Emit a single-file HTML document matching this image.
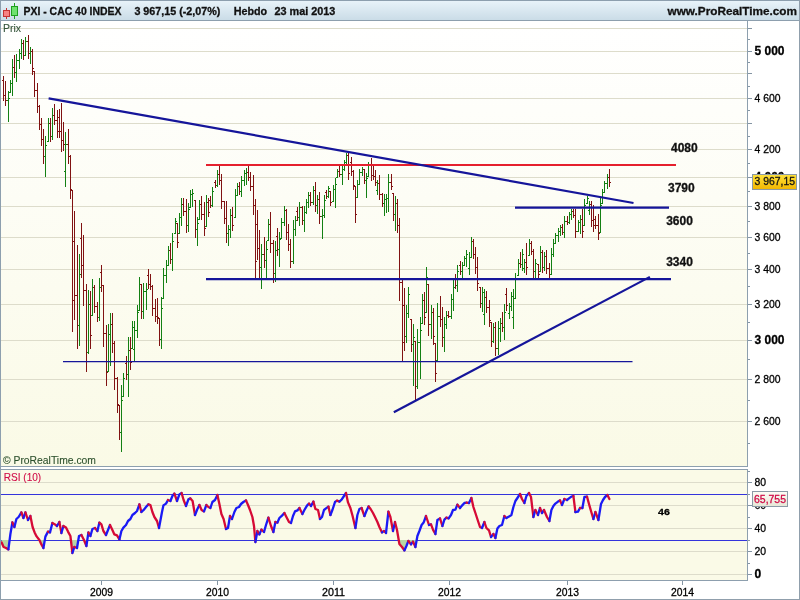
<!DOCTYPE html>
<html><head><meta charset="utf-8"><title>PXI - CAC 40 INDEX</title>
<style>
html,body{margin:0;padding:0;background:#fff;}
body{width:800px;height:600px;overflow:hidden;position:relative;font-family:"Liberation Sans",Arial,sans-serif;}
svg{position:absolute;left:0;top:0;}
text{font-family:"Liberation Sans",Arial,sans-serif;}
.b{font-weight:bold;}
</style></head><body>
<svg width="800" height="600" viewBox="0 0 800 600">
<defs>
<linearGradient id="hd" x1="0" y1="0" x2="0" y2="1"><stop offset="0" stop-color="#e9f4fa"/><stop offset="1" stop-color="#c9dbe6"/></linearGradient>
<linearGradient id="pg" x1="0" y1="0" x2="0" y2="1"><stop offset="0" stop-color="#ffffff"/><stop offset="1" stop-color="#fafae6"/></linearGradient>
<linearGradient id="yb" x1="0" y1="0" x2="0" y2="1"><stop offset="0" stop-color="#ffe23a"/><stop offset="1" stop-color="#f2b600"/></linearGradient>
<linearGradient id="wb" x1="0" y1="0" x2="0" y2="1"><stop offset="0" stop-color="#fdfdf6"/><stop offset="1" stop-color="#e6e6d6"/></linearGradient>
<clipPath id="cp"><rect x="2" y="21" width="745" height="445"/></clipPath>
<clipPath id="cr"><rect x="1" y="470" width="746" height="110"/></clipPath>
</defs>
<rect x="0" y="0" width="800" height="600" fill="#ffffff"/>

<rect x="0" y="0" width="800" height="21" fill="url(#hd)"/>
<rect x="0" y="0" width="800" height="1" fill="#8d9fae"/>
<rect x="0" y="20" width="800" height="1" fill="#8d9fae"/>
<rect x="1" y="21" width="746" height="445" fill="url(#pg)"/>
<rect x="1" y="469" width="746" height="111" fill="#fafae7"/>
<g shape-rendering="crispEdges">
<rect x="1" y="421" width="746" height="1" fill="#dddccb"/>
<rect x="1" y="379" width="746" height="1" fill="#dddccb"/>
<rect x="1" y="340" width="746" height="1" fill="#dddccb"/>
<rect x="1" y="304" width="746" height="1" fill="#dddccb"/>
<rect x="1" y="269" width="746" height="1" fill="#dddccb"/>
<rect x="1" y="237" width="746" height="1" fill="#dddccb"/>
<rect x="1" y="206" width="746" height="1" fill="#dddccb"/>
<rect x="1" y="177" width="746" height="1" fill="#dddccb"/>
<rect x="1" y="149" width="746" height="1" fill="#dddccb"/>
<rect x="1" y="123" width="746" height="1" fill="#dddccb"/>
<rect x="1" y="98" width="746" height="1" fill="#dddccb"/>
<rect x="1" y="73" width="746" height="1" fill="#dddccb"/>
<rect x="1" y="51" width="746" height="1" fill="#dddccb"/>
<rect x="1" y="28" width="746" height="1" fill="#dddccb"/>
<rect x="1" y="574" width="746" height="1" fill="#dddccb"/>
<rect x="1" y="551" width="746" height="1" fill="#dddccb"/>
<rect x="1" y="528" width="746" height="1" fill="#dddccb"/>
<rect x="1" y="505" width="746" height="1" fill="#dddccb"/>
<rect x="1" y="482" width="746" height="1" fill="#dddccb"/>
<rect x="0" y="0" width="1" height="600" fill="#8d9fae"/>
<rect x="799" y="0" width="1" height="600" fill="#909fac"/>
<rect x="0" y="599" width="800" height="1" fill="#909fac"/>
<rect x="747" y="21" width="1" height="446" fill="#8d9fae"/>
<rect x="1" y="466" width="747" height="1" fill="#8d9fae"/>
<rect x="1" y="469" width="747" height="1" fill="#8d9fae"/>
<rect x="747" y="469" width="1" height="112" fill="#8d9fae"/>
<rect x="1" y="580" width="747" height="1" fill="#8d9fae"/>
<rect x="748" y="28" width="4" height="1" fill="#8495a3"/>
<rect x="748" y="39" width="2" height="1" fill="#8495a3"/>
<rect x="748" y="51" width="4" height="1" fill="#8495a3"/>
<rect x="748" y="62" width="2" height="1" fill="#8495a3"/>
<rect x="748" y="73" width="4" height="1" fill="#8495a3"/>
<rect x="748" y="86" width="2" height="1" fill="#8495a3"/>
<rect x="748" y="98" width="4" height="1" fill="#8495a3"/>
<rect x="748" y="110" width="2" height="1" fill="#8495a3"/>
<rect x="748" y="123" width="4" height="1" fill="#8495a3"/>
<rect x="748" y="136" width="2" height="1" fill="#8495a3"/>
<rect x="748" y="149" width="4" height="1" fill="#8495a3"/>
<rect x="748" y="163" width="2" height="1" fill="#8495a3"/>
<rect x="748" y="177" width="4" height="1" fill="#8495a3"/>
<rect x="748" y="191" width="2" height="1" fill="#8495a3"/>
<rect x="748" y="206" width="4" height="1" fill="#8495a3"/>
<rect x="748" y="221" width="2" height="1" fill="#8495a3"/>
<rect x="748" y="237" width="4" height="1" fill="#8495a3"/>
<rect x="748" y="253" width="2" height="1" fill="#8495a3"/>
<rect x="748" y="269" width="4" height="1" fill="#8495a3"/>
<rect x="748" y="286" width="2" height="1" fill="#8495a3"/>
<rect x="748" y="304" width="4" height="1" fill="#8495a3"/>
<rect x="748" y="322" width="2" height="1" fill="#8495a3"/>
<rect x="748" y="340" width="4" height="1" fill="#8495a3"/>
<rect x="748" y="359" width="2" height="1" fill="#8495a3"/>
<rect x="748" y="379" width="4" height="1" fill="#8495a3"/>
<rect x="748" y="400" width="2" height="1" fill="#8495a3"/>
<rect x="748" y="421" width="4" height="1" fill="#8495a3"/>
<rect x="748" y="443" width="2" height="1" fill="#8495a3"/>
<rect x="748" y="574" width="4" height="1" fill="#8495a3"/>
<rect x="748" y="563" width="2" height="1" fill="#8495a3"/>
<rect x="748" y="551" width="4" height="1" fill="#8495a3"/>
<rect x="748" y="540" width="2" height="1" fill="#8495a3"/>
<rect x="748" y="528" width="4" height="1" fill="#8495a3"/>
<rect x="748" y="517" width="2" height="1" fill="#8495a3"/>
<rect x="748" y="505" width="4" height="1" fill="#8495a3"/>
<rect x="748" y="494" width="2" height="1" fill="#8495a3"/>
<rect x="748" y="482" width="4" height="1" fill="#8495a3"/>
<rect x="748" y="471" width="2" height="1" fill="#8495a3"/>
</g>
<text x="754.5" y="55" font-size="12" class="b" textLength="30" lengthAdjust="spacingAndGlyphs" fill="#000" stroke="#000" stroke-width="0.3">5 000</text>
<text x="754.5" y="102" font-size="11" textLength="26" lengthAdjust="spacingAndGlyphs" fill="#000" stroke="#000" stroke-width="0.3">4 600</text>
<text x="754.5" y="153" font-size="11" textLength="26" lengthAdjust="spacingAndGlyphs" fill="#000" stroke="#000" stroke-width="0.3">4 200</text>
<text x="754.5" y="181" font-size="12" class="b" textLength="30" lengthAdjust="spacingAndGlyphs" fill="#000" stroke="#000" stroke-width="0.3">4 000</text>
<text x="754.5" y="210" font-size="11" textLength="26" lengthAdjust="spacingAndGlyphs" fill="#000" stroke="#000" stroke-width="0.3">3 800</text>
<text x="754.5" y="241" font-size="11" textLength="26" lengthAdjust="spacingAndGlyphs" fill="#000" stroke="#000" stroke-width="0.3">3 600</text>
<text x="754.5" y="273" font-size="11" textLength="26" lengthAdjust="spacingAndGlyphs" fill="#000" stroke="#000" stroke-width="0.3">3 400</text>
<text x="754.5" y="308" font-size="11" textLength="26" lengthAdjust="spacingAndGlyphs" fill="#000" stroke="#000" stroke-width="0.3">3 200</text>
<text x="754.5" y="344" font-size="12" class="b" textLength="30" lengthAdjust="spacingAndGlyphs" fill="#000" stroke="#000" stroke-width="0.3">3 000</text>
<text x="754.5" y="383" font-size="11" textLength="26" lengthAdjust="spacingAndGlyphs" fill="#000" stroke="#000" stroke-width="0.3">2 800</text>
<text x="754.5" y="425" font-size="11" textLength="26" lengthAdjust="spacingAndGlyphs" fill="#000" stroke="#000" stroke-width="0.3">2 600</text>
<text x="754.5" y="578" font-size="12" class="b" textLength="6.7" lengthAdjust="spacingAndGlyphs" fill="#000" stroke="#000" stroke-width="0.3">0</text>
<text x="754.5" y="555" font-size="11" textLength="11.6" lengthAdjust="spacingAndGlyphs" fill="#000" stroke="#000" stroke-width="0.3">20</text>
<text x="754.5" y="532" font-size="11" textLength="11.6" lengthAdjust="spacingAndGlyphs" fill="#000" stroke="#000" stroke-width="0.3">40</text>
<text x="754.5" y="509" font-size="11" textLength="11.6" lengthAdjust="spacingAndGlyphs" fill="#000" stroke="#000" stroke-width="0.3">60</text>
<text x="754.5" y="486" font-size="11" textLength="11.6" lengthAdjust="spacingAndGlyphs" fill="#000" stroke="#000" stroke-width="0.3">80</text>
<rect x="101" y="581" width="1" height="4" fill="#8495a3" shape-rendering="crispEdges"/>
<text x="90" y="595.8" font-size="11" textLength="23" lengthAdjust="spacingAndGlyphs" fill="#000" stroke="#000" stroke-width="0.3">2009</text>
<rect x="217" y="581" width="1" height="4" fill="#8495a3" shape-rendering="crispEdges"/>
<text x="206" y="595.8" font-size="11" textLength="23" lengthAdjust="spacingAndGlyphs" fill="#000" stroke="#000" stroke-width="0.3">2010</text>
<rect x="333" y="581" width="1" height="4" fill="#8495a3" shape-rendering="crispEdges"/>
<text x="322" y="595.8" font-size="11" textLength="23" lengthAdjust="spacingAndGlyphs" fill="#000" stroke="#000" stroke-width="0.3">2011</text>
<rect x="449" y="581" width="1" height="4" fill="#8495a3" shape-rendering="crispEdges"/>
<text x="438" y="595.8" font-size="11" textLength="23" lengthAdjust="spacingAndGlyphs" fill="#000" stroke="#000" stroke-width="0.3">2012</text>
<rect x="567" y="581" width="1" height="4" fill="#8495a3" shape-rendering="crispEdges"/>
<text x="556" y="595.8" font-size="11" textLength="23" lengthAdjust="spacingAndGlyphs" fill="#000" stroke="#000" stroke-width="0.3">2013</text>
<rect x="682" y="581" width="1" height="4" fill="#8495a3" shape-rendering="crispEdges"/>
<text x="671" y="595.8" font-size="11" textLength="23" lengthAdjust="spacingAndGlyphs" fill="#000" stroke="#000" stroke-width="0.3">2014</text>
<g clip-path="url(#cp)">
<g shape-rendering="crispEdges">
<path d="M3.5 76V101M2 80.5h1M4 95.5h1" stroke="#801212" stroke-width="1" fill="none"/>
<path d="M5.5 81V106M4 95.5h1M6 100.5h1" stroke="#801212" stroke-width="1" fill="none"/>
<path d="M8.5 91V122M7 100.5h1M9 98.5h1" stroke="#138013" stroke-width="1" fill="none"/>
<path d="M10.5 80V93M9 92.5h1M11 83.5h1" stroke="#138013" stroke-width="1" fill="none"/>
<path d="M12.5 59V96M11 83.5h1M13 67.5h1" stroke="#138013" stroke-width="1" fill="none"/>
<path d="M14.5 55V78M13 67.5h1M15 72.5h1" stroke="#801212" stroke-width="1" fill="none"/>
<path d="M16.5 54V82M15 72.5h1M17 60.5h1" stroke="#138013" stroke-width="1" fill="none"/>
<path d="M19.5 49V69M18 60.5h1M20 53.5h1" stroke="#138013" stroke-width="1" fill="none"/>
<path d="M21.5 39V59M20 53.5h1M22 43.5h1" stroke="#138013" stroke-width="1" fill="none"/>
<path d="M23.5 40V60M22 43.5h1M24 55.5h1" stroke="#801212" stroke-width="1" fill="none"/>
<path d="M25.5 37V56M24 55.5h1M26 41.5h1" stroke="#138013" stroke-width="1" fill="none"/>
<path d="M28.5 35V59M27 41.5h1M29 53.5h1" stroke="#801212" stroke-width="1" fill="none"/>
<path d="M30.5 47V64M29 53.5h1M31 51.5h1" stroke="#138013" stroke-width="1" fill="none"/>
<path d="M32.5 49V75M31 51.5h1M33 68.5h1" stroke="#801212" stroke-width="1" fill="none"/>
<path d="M34.5 71V97M33 71.5h1M35 90.5h1" stroke="#801212" stroke-width="1" fill="none"/>
<path d="M37.5 83V113M36 90.5h1M38 106.5h1" stroke="#801212" stroke-width="1" fill="none"/>
<path d="M39.5 105V130M38 106.5h1M40 124.5h1" stroke="#801212" stroke-width="1" fill="none"/>
<path d="M41.5 118V146M40 124.5h1M42 139.5h1" stroke="#801212" stroke-width="1" fill="none"/>
<path d="M43.5 129V164M42 139.5h1M44 156.5h1" stroke="#801212" stroke-width="1" fill="none"/>
<path d="M45.5 136V177M44 156.5h1M46 145.5h1" stroke="#138013" stroke-width="1" fill="none"/>
<path d="M48.5 118V142M47 141.5h1M49 123.5h1" stroke="#138013" stroke-width="1" fill="none"/>
<path d="M50.5 118V142M49 123.5h1M51 136.5h1" stroke="#801212" stroke-width="1" fill="none"/>
<path d="M52.5 108V140M51 136.5h1M53 115.5h1" stroke="#138013" stroke-width="1" fill="none"/>
<path d="M54.5 104V125M53 115.5h1M55 120.5h1" stroke="#801212" stroke-width="1" fill="none"/>
<path d="M57.5 110V138M56 120.5h1M58 131.5h1" stroke="#801212" stroke-width="1" fill="none"/>
<path d="M59.5 109V138M58 117.5h1M60 131.5h1" stroke="#801212" stroke-width="1" fill="none"/>
<path d="M61.5 103V152M60 131.5h1M62 140.5h1" stroke="#801212" stroke-width="1" fill="none"/>
<path d="M63.5 122V151M62 140.5h1M64 144.5h1" stroke="#801212" stroke-width="1" fill="none"/>
<path d="M65.5 132V187M64 171.5h1M66 144.5h1" stroke="#138013" stroke-width="1" fill="none"/>
<path d="M68.5 129V164M67 144.5h1M69 156.5h1" stroke="#801212" stroke-width="1" fill="none"/>
<path d="M70.5 155V199M69 156.5h1M71 189.5h1" stroke="#801212" stroke-width="1" fill="none"/>
<path d="M72.5 190V332M71 190.5h1M73 300.5h1" stroke="#801212" stroke-width="1" fill="none"/>
<path d="M74.5 211V320M73 241.5h1M75 295.5h1" stroke="#801212" stroke-width="1" fill="none"/>
<path d="M77.5 245V349M76 295.5h1M78 325.5h1" stroke="#801212" stroke-width="1" fill="none"/>
<path d="M79.5 254V346M78 325.5h1M80 274.5h1" stroke="#138013" stroke-width="1" fill="none"/>
<path d="M81.5 223V278M80 238.5h1M82 265.5h1" stroke="#801212" stroke-width="1" fill="none"/>
<path d="M83.5 235V306M82 265.5h1M84 290.5h1" stroke="#801212" stroke-width="1" fill="none"/>
<path d="M86.5 284V372M85 290.5h1M87 352.5h1" stroke="#801212" stroke-width="1" fill="none"/>
<path d="M88.5 290V354M87 352.5h1M89 304.5h1" stroke="#138013" stroke-width="1" fill="none"/>
<path d="M90.5 291V349M89 304.5h1M91 335.5h1" stroke="#801212" stroke-width="1" fill="none"/>
<path d="M92.5 279V316M91 315.5h1M93 287.5h1" stroke="#138013" stroke-width="1" fill="none"/>
<path d="M94.5 285V313M93 287.5h1M95 306.5h1" stroke="#801212" stroke-width="1" fill="none"/>
<path d="M97.5 302V322M96 306.5h1M98 317.5h1" stroke="#801212" stroke-width="1" fill="none"/>
<path d="M99.5 278V321M98 317.5h1M100 287.5h1" stroke="#138013" stroke-width="1" fill="none"/>
<path d="M101.5 265V292M100 272.5h1M102 285.5h1" stroke="#801212" stroke-width="1" fill="none"/>
<path d="M103.5 285V347M102 285.5h1M104 333.5h1" stroke="#801212" stroke-width="1" fill="none"/>
<path d="M106.5 325V386M105 333.5h1M107 372.5h1" stroke="#801212" stroke-width="1" fill="none"/>
<path d="M108.5 324V372M107 371.5h1M109 334.5h1" stroke="#138013" stroke-width="1" fill="none"/>
<path d="M110.5 313V366M109 334.5h1M111 324.5h1" stroke="#138013" stroke-width="1" fill="none"/>
<path d="M112.5 313V353M111 324.5h1M113 343.5h1" stroke="#801212" stroke-width="1" fill="none"/>
<path d="M114.5 341V390M113 343.5h1M115 378.5h1" stroke="#801212" stroke-width="1" fill="none"/>
<path d="M117.5 377V413M116 378.5h1M118 404.5h1" stroke="#801212" stroke-width="1" fill="none"/>
<path d="M119.5 405V440M118 405.5h1M120 432.5h1" stroke="#801212" stroke-width="1" fill="none"/>
<path d="M121.5 385V452M120 432.5h1M122 400.5h1" stroke="#138013" stroke-width="1" fill="none"/>
<path d="M123.5 373V397M122 396.5h1M124 378.5h1" stroke="#138013" stroke-width="1" fill="none"/>
<path d="M126.5 356V380M125 363.5h1M127 374.5h1" stroke="#801212" stroke-width="1" fill="none"/>
<path d="M128.5 337V397M127 374.5h1M129 350.5h1" stroke="#138013" stroke-width="1" fill="none"/>
<path d="M130.5 337V370M129 350.5h1M131 362.5h1" stroke="#801212" stroke-width="1" fill="none"/>
<path d="M132.5 321V349M131 348.5h1M133 327.5h1" stroke="#138013" stroke-width="1" fill="none"/>
<path d="M134.5 321V361M133 349.5h1M135 330.5h1" stroke="#138013" stroke-width="1" fill="none"/>
<path d="M137.5 305V338M136 330.5h1M138 312.5h1" stroke="#138013" stroke-width="1" fill="none"/>
<path d="M139.5 277V311M138 310.5h1M140 284.5h1" stroke="#138013" stroke-width="1" fill="none"/>
<path d="M141.5 284V319M140 284.5h1M142 311.5h1" stroke="#801212" stroke-width="1" fill="none"/>
<path d="M143.5 283V319M142 311.5h1M144 291.5h1" stroke="#138013" stroke-width="1" fill="none"/>
<path d="M146.5 283V310M145 291.5h1M147 289.5h1" stroke="#138013" stroke-width="1" fill="none"/>
<path d="M148.5 269V289M147 275.5h1M149 284.5h1" stroke="#801212" stroke-width="1" fill="none"/>
<path d="M150.5 274V290M149 284.5h1M151 286.5h1" stroke="#801212" stroke-width="1" fill="none"/>
<path d="M152.5 285V316M151 286.5h1M153 308.5h1" stroke="#801212" stroke-width="1" fill="none"/>
<path d="M155.5 299V322M154 308.5h1M156 316.5h1" stroke="#801212" stroke-width="1" fill="none"/>
<path d="M157.5 298V324M156 316.5h1M158 317.5h1" stroke="#801212" stroke-width="1" fill="none"/>
<path d="M159.5 318V346M158 318.5h1M160 339.5h1" stroke="#801212" stroke-width="1" fill="none"/>
<path d="M161.5 297V349M160 339.5h1M162 308.5h1" stroke="#138013" stroke-width="1" fill="none"/>
<path d="M163.5 268V299M162 298.5h1M164 275.5h1" stroke="#138013" stroke-width="1" fill="none"/>
<path d="M166.5 260V283M165 275.5h1M167 265.5h1" stroke="#138013" stroke-width="1" fill="none"/>
<path d="M168.5 246V266M167 265.5h1M169 250.5h1" stroke="#138013" stroke-width="1" fill="none"/>
<path d="M170.5 243V264M169 250.5h1M171 259.5h1" stroke="#801212" stroke-width="1" fill="none"/>
<path d="M172.5 233V271M171 259.5h1M173 241.5h1" stroke="#138013" stroke-width="1" fill="none"/>
<path d="M175.5 218V234M174 233.5h1M176 221.5h1" stroke="#138013" stroke-width="1" fill="none"/>
<path d="M177.5 223V248M176 223.5h1M178 242.5h1" stroke="#801212" stroke-width="1" fill="none"/>
<path d="M179.5 213V234M178 233.5h1M180 217.5h1" stroke="#138013" stroke-width="1" fill="none"/>
<path d="M181.5 198V226M180 217.5h1M182 204.5h1" stroke="#138013" stroke-width="1" fill="none"/>
<path d="M183.5 198V216M182 204.5h1M184 211.5h1" stroke="#801212" stroke-width="1" fill="none"/>
<path d="M186.5 199V233M185 211.5h1M187 225.5h1" stroke="#801212" stroke-width="1" fill="none"/>
<path d="M188.5 203V232M187 225.5h1M189 209.5h1" stroke="#138013" stroke-width="1" fill="none"/>
<path d="M190.5 190V208M189 207.5h1M191 194.5h1" stroke="#138013" stroke-width="1" fill="none"/>
<path d="M192.5 189V207M191 194.5h1M193 193.5h1" stroke="#138013" stroke-width="1" fill="none"/>
<path d="M195.5 200V238M194 200.5h1M196 229.5h1" stroke="#801212" stroke-width="1" fill="none"/>
<path d="M197.5 217V246M196 229.5h1M198 223.5h1" stroke="#138013" stroke-width="1" fill="none"/>
<path d="M199.5 200V220M198 219.5h1M200 204.5h1" stroke="#138013" stroke-width="1" fill="none"/>
<path d="M201.5 196V220M200 204.5h1M202 214.5h1" stroke="#801212" stroke-width="1" fill="none"/>
<path d="M204.5 202V236M203 214.5h1M205 228.5h1" stroke="#801212" stroke-width="1" fill="none"/>
<path d="M206.5 195V227M205 226.5h1M207 202.5h1" stroke="#138013" stroke-width="1" fill="none"/>
<path d="M208.5 198V217M207 202.5h1M209 212.5h1" stroke="#801212" stroke-width="1" fill="none"/>
<path d="M210.5 196V208M209 200.5h1M211 205.5h1" stroke="#801212" stroke-width="1" fill="none"/>
<path d="M212.5 187V207M211 205.5h1M213 191.5h1" stroke="#138013" stroke-width="1" fill="none"/>
<path d="M215.5 180V188M214 182.5h1M216 185.5h1" stroke="#801212" stroke-width="1" fill="none"/>
<path d="M217.5 170V187M216 185.5h1M218 174.5h1" stroke="#138013" stroke-width="1" fill="none"/>
<path d="M219.5 166V185M218 174.5h1M220 180.5h1" stroke="#801212" stroke-width="1" fill="none"/>
<path d="M221.5 174V209M220 180.5h1M222 201.5h1" stroke="#801212" stroke-width="1" fill="none"/>
<path d="M224.5 201V224M223 201.5h1M225 218.5h1" stroke="#801212" stroke-width="1" fill="none"/>
<path d="M226.5 201V243M225 218.5h1M227 233.5h1" stroke="#801212" stroke-width="1" fill="none"/>
<path d="M228.5 225V246M227 233.5h1M229 229.5h1" stroke="#138013" stroke-width="1" fill="none"/>
<path d="M230.5 209V238M229 229.5h1M231 215.5h1" stroke="#138013" stroke-width="1" fill="none"/>
<path d="M232.5 207V231M231 215.5h1M233 225.5h1" stroke="#801212" stroke-width="1" fill="none"/>
<path d="M235.5 189V218M234 217.5h1M236 195.5h1" stroke="#138013" stroke-width="1" fill="none"/>
<path d="M237.5 183V196M236 195.5h1M238 186.5h1" stroke="#138013" stroke-width="1" fill="none"/>
<path d="M239.5 182V195M238 186.5h1M240 191.5h1" stroke="#801212" stroke-width="1" fill="none"/>
<path d="M241.5 176V197M240 191.5h1M242 180.5h1" stroke="#138013" stroke-width="1" fill="none"/>
<path d="M244.5 170V186M243 180.5h1M245 173.5h1" stroke="#138013" stroke-width="1" fill="none"/>
<path d="M246.5 168V185M245 173.5h1M247 172.5h1" stroke="#138013" stroke-width="1" fill="none"/>
<path d="M248.5 166V181M247 172.5h1M249 177.5h1" stroke="#801212" stroke-width="1" fill="none"/>
<path d="M250.5 172V191M249 177.5h1M251 186.5h1" stroke="#801212" stroke-width="1" fill="none"/>
<path d="M253.5 175V215M252 186.5h1M254 205.5h1" stroke="#801212" stroke-width="1" fill="none"/>
<path d="M255.5 199V279M254 205.5h1M256 261.5h1" stroke="#801212" stroke-width="1" fill="none"/>
<path d="M257.5 210V260M256 224.5h1M258 248.5h1" stroke="#801212" stroke-width="1" fill="none"/>
<path d="M259.5 230V278M258 248.5h1M260 267.5h1" stroke="#801212" stroke-width="1" fill="none"/>
<path d="M261.5 244V289M260 267.5h1M262 254.5h1" stroke="#138013" stroke-width="1" fill="none"/>
<path d="M264.5 237V268M263 254.5h1M265 260.5h1" stroke="#801212" stroke-width="1" fill="none"/>
<path d="M266.5 241V278M265 260.5h1M267 249.5h1" stroke="#138013" stroke-width="1" fill="none"/>
<path d="M268.5 219V241M267 240.5h1M269 224.5h1" stroke="#138013" stroke-width="1" fill="none"/>
<path d="M270.5 212V253M269 224.5h1M271 243.5h1" stroke="#801212" stroke-width="1" fill="none"/>
<path d="M273.5 240V283M272 243.5h1M274 273.5h1" stroke="#801212" stroke-width="1" fill="none"/>
<path d="M275.5 241V282M274 273.5h1M276 250.5h1" stroke="#138013" stroke-width="1" fill="none"/>
<path d="M277.5 228V256M276 236.5h1M278 249.5h1" stroke="#801212" stroke-width="1" fill="none"/>
<path d="M279.5 232V267M278 249.5h1M280 239.5h1" stroke="#138013" stroke-width="1" fill="none"/>
<path d="M281.5 218V239M280 238.5h1M282 222.5h1" stroke="#138013" stroke-width="1" fill="none"/>
<path d="M284.5 206V226M283 222.5h1M285 210.5h1" stroke="#138013" stroke-width="1" fill="none"/>
<path d="M286.5 209V240M285 210.5h1M287 232.5h1" stroke="#801212" stroke-width="1" fill="none"/>
<path d="M288.5 224V251M287 232.5h1M289 244.5h1" stroke="#801212" stroke-width="1" fill="none"/>
<path d="M290.5 239V268M289 244.5h1M291 261.5h1" stroke="#801212" stroke-width="1" fill="none"/>
<path d="M293.5 220V264M292 261.5h1M294 229.5h1" stroke="#138013" stroke-width="1" fill="none"/>
<path d="M295.5 216V236M294 229.5h1M296 220.5h1" stroke="#138013" stroke-width="1" fill="none"/>
<path d="M297.5 207V221M296 211.5h1M298 217.5h1" stroke="#801212" stroke-width="1" fill="none"/>
<path d="M299.5 202V226M298 217.5h1M300 207.5h1" stroke="#138013" stroke-width="1" fill="none"/>
<path d="M302.5 206V225M301 207.5h1M303 220.5h1" stroke="#801212" stroke-width="1" fill="none"/>
<path d="M304.5 206V232M303 220.5h1M305 212.5h1" stroke="#138013" stroke-width="1" fill="none"/>
<path d="M306.5 199V214M305 212.5h1M307 202.5h1" stroke="#138013" stroke-width="1" fill="none"/>
<path d="M308.5 192V208M307 202.5h1M309 195.5h1" stroke="#138013" stroke-width="1" fill="none"/>
<path d="M310.5 192V206M309 195.5h1M311 202.5h1" stroke="#801212" stroke-width="1" fill="none"/>
<path d="M313.5 186V205M312 202.5h1M314 190.5h1" stroke="#138013" stroke-width="1" fill="none"/>
<path d="M315.5 182V212M314 190.5h1M316 205.5h1" stroke="#801212" stroke-width="1" fill="none"/>
<path d="M317.5 195V214M316 205.5h1M318 199.5h1" stroke="#138013" stroke-width="1" fill="none"/>
<path d="M319.5 192V224M318 199.5h1M320 216.5h1" stroke="#801212" stroke-width="1" fill="none"/>
<path d="M322.5 209V239M321 216.5h1M323 215.5h1" stroke="#138013" stroke-width="1" fill="none"/>
<path d="M324.5 195V218M323 215.5h1M325 200.5h1" stroke="#138013" stroke-width="1" fill="none"/>
<path d="M326.5 190V199M325 192.5h1M327 196.5h1" stroke="#801212" stroke-width="1" fill="none"/>
<path d="M328.5 186V198M327 196.5h1M329 188.5h1" stroke="#138013" stroke-width="1" fill="none"/>
<path d="M330.5 191V206M329 191.5h1M331 202.5h1" stroke="#801212" stroke-width="1" fill="none"/>
<path d="M333.5 185V202M332 201.5h1M334 189.5h1" stroke="#138013" stroke-width="1" fill="none"/>
<path d="M335.5 178V208M334 189.5h1M336 184.5h1" stroke="#138013" stroke-width="1" fill="none"/>
<path d="M337.5 169V178M336 177.5h1M338 171.5h1" stroke="#138013" stroke-width="1" fill="none"/>
<path d="M339.5 165V177M338 171.5h1M340 174.5h1" stroke="#801212" stroke-width="1" fill="none"/>
<path d="M342.5 165V185M341 174.5h1M343 169.5h1" stroke="#138013" stroke-width="1" fill="none"/>
<path d="M344.5 160V171M343 169.5h1M345 162.5h1" stroke="#138013" stroke-width="1" fill="none"/>
<path d="M346.5 153V164M345 162.5h1M347 155.5h1" stroke="#138013" stroke-width="1" fill="none"/>
<path d="M348.5 153V180M347 155.5h1M349 173.5h1" stroke="#801212" stroke-width="1" fill="none"/>
<path d="M351.5 157V176M350 162.5h1M352 171.5h1" stroke="#801212" stroke-width="1" fill="none"/>
<path d="M353.5 170V190M352 171.5h1M354 185.5h1" stroke="#801212" stroke-width="1" fill="none"/>
<path d="M355.5 186V223M354 186.5h1M356 214.5h1" stroke="#801212" stroke-width="1" fill="none"/>
<path d="M357.5 180V198M356 197.5h1M358 184.5h1" stroke="#138013" stroke-width="1" fill="none"/>
<path d="M359.5 169V185M358 184.5h1M360 172.5h1" stroke="#138013" stroke-width="1" fill="none"/>
<path d="M362.5 167V176M361 172.5h1M363 169.5h1" stroke="#138013" stroke-width="1" fill="none"/>
<path d="M364.5 169V184M363 169.5h1M365 180.5h1" stroke="#801212" stroke-width="1" fill="none"/>
<path d="M366.5 173V198M365 180.5h1M367 178.5h1" stroke="#138013" stroke-width="1" fill="none"/>
<path d="M368.5 162V177M367 176.5h1M369 165.5h1" stroke="#138013" stroke-width="1" fill="none"/>
<path d="M371.5 158V181M370 165.5h1M372 175.5h1" stroke="#801212" stroke-width="1" fill="none"/>
<path d="M373.5 165V180M372 175.5h1M374 176.5h1" stroke="#801212" stroke-width="1" fill="none"/>
<path d="M375.5 170V186M374 176.5h1M376 182.5h1" stroke="#801212" stroke-width="1" fill="none"/>
<path d="M377.5 180V195M376 190.5h1M378 183.5h1" stroke="#138013" stroke-width="1" fill="none"/>
<path d="M379.5 175V200M378 183.5h1M380 194.5h1" stroke="#801212" stroke-width="1" fill="none"/>
<path d="M382.5 193V207M381 194.5h1M383 203.5h1" stroke="#801212" stroke-width="1" fill="none"/>
<path d="M384.5 194V216M383 203.5h1M385 199.5h1" stroke="#138013" stroke-width="1" fill="none"/>
<path d="M386.5 194V213M385 199.5h1M387 198.5h1" stroke="#138013" stroke-width="1" fill="none"/>
<path d="M388.5 174V212M387 198.5h1M389 182.5h1" stroke="#138013" stroke-width="1" fill="none"/>
<path d="M391.5 174V190M390 182.5h1M392 186.5h1" stroke="#801212" stroke-width="1" fill="none"/>
<path d="M393.5 193V221M392 193.5h1M394 214.5h1" stroke="#801212" stroke-width="1" fill="none"/>
<path d="M395.5 196V231M394 214.5h1M396 203.5h1" stroke="#138013" stroke-width="1" fill="none"/>
<path d="M397.5 199V233M396 203.5h1M398 225.5h1" stroke="#801212" stroke-width="1" fill="none"/>
<path d="M399.5 218V301M398 225.5h1M400 282.5h1" stroke="#801212" stroke-width="1" fill="none"/>
<path d="M402.5 279V361M401 282.5h1M403 342.5h1" stroke="#801212" stroke-width="1" fill="none"/>
<path d="M404.5 288V351M403 305.5h1M405 336.5h1" stroke="#801212" stroke-width="1" fill="none"/>
<path d="M406.5 305V343M405 336.5h1M407 313.5h1" stroke="#138013" stroke-width="1" fill="none"/>
<path d="M408.5 287V318M407 313.5h1M409 294.5h1" stroke="#138013" stroke-width="1" fill="none"/>
<path d="M411.5 319V352M410 319.5h1M412 344.5h1" stroke="#801212" stroke-width="1" fill="none"/>
<path d="M413.5 324V386M412 344.5h1M414 337.5h1" stroke="#138013" stroke-width="1" fill="none"/>
<path d="M415.5 341V400M414 341.5h1M416 386.5h1" stroke="#801212" stroke-width="1" fill="none"/>
<path d="M417.5 329V389M416 386.5h1M418 342.5h1" stroke="#138013" stroke-width="1" fill="none"/>
<path d="M420.5 317V379M419 342.5h1M421 330.5h1" stroke="#138013" stroke-width="1" fill="none"/>
<path d="M422.5 294V324M421 323.5h1M423 300.5h1" stroke="#138013" stroke-width="1" fill="none"/>
<path d="M424.5 292V325M423 300.5h1M425 317.5h1" stroke="#801212" stroke-width="1" fill="none"/>
<path d="M426.5 267V313M425 312.5h1M427 277.5h1" stroke="#138013" stroke-width="1" fill="none"/>
<path d="M428.5 284V336M427 284.5h1M429 324.5h1" stroke="#801212" stroke-width="1" fill="none"/>
<path d="M431.5 305V339M430 324.5h1M432 312.5h1" stroke="#138013" stroke-width="1" fill="none"/>
<path d="M433.5 308V345M432 312.5h1M434 336.5h1" stroke="#801212" stroke-width="1" fill="none"/>
<path d="M435.5 343V382M434 343.5h1M436 373.5h1" stroke="#801212" stroke-width="1" fill="none"/>
<path d="M437.5 303V361M436 360.5h1M438 316.5h1" stroke="#138013" stroke-width="1" fill="none"/>
<path d="M440.5 296V327M439 316.5h1M441 319.5h1" stroke="#801212" stroke-width="1" fill="none"/>
<path d="M442.5 307V347M441 319.5h1M443 337.5h1" stroke="#801212" stroke-width="1" fill="none"/>
<path d="M444.5 317V352M443 337.5h1M445 324.5h1" stroke="#138013" stroke-width="1" fill="none"/>
<path d="M446.5 311V329M445 324.5h1M447 315.5h1" stroke="#138013" stroke-width="1" fill="none"/>
<path d="M448.5 311V318M447 315.5h1M449 316.5h1" stroke="#801212" stroke-width="1" fill="none"/>
<path d="M451.5 294V319M450 316.5h1M452 299.5h1" stroke="#138013" stroke-width="1" fill="none"/>
<path d="M453.5 280V311M452 299.5h1M454 287.5h1" stroke="#138013" stroke-width="1" fill="none"/>
<path d="M455.5 274V289M454 278.5h1M456 285.5h1" stroke="#801212" stroke-width="1" fill="none"/>
<path d="M457.5 265V292M456 285.5h1M458 271.5h1" stroke="#138013" stroke-width="1" fill="none"/>
<path d="M460.5 261V275M459 265.5h1M461 271.5h1" stroke="#801212" stroke-width="1" fill="none"/>
<path d="M462.5 262V278M461 271.5h1M463 265.5h1" stroke="#138013" stroke-width="1" fill="none"/>
<path d="M464.5 256V266M463 265.5h1M465 258.5h1" stroke="#138013" stroke-width="1" fill="none"/>
<path d="M466.5 250V267M465 258.5h1M467 254.5h1" stroke="#138013" stroke-width="1" fill="none"/>
<path d="M469.5 252V275M468 268.5h1M470 257.5h1" stroke="#138013" stroke-width="1" fill="none"/>
<path d="M471.5 237V258M470 257.5h1M472 241.5h1" stroke="#138013" stroke-width="1" fill="none"/>
<path d="M473.5 239V259M472 241.5h1M474 254.5h1" stroke="#801212" stroke-width="1" fill="none"/>
<path d="M475.5 247V274M474 254.5h1M476 267.5h1" stroke="#801212" stroke-width="1" fill="none"/>
<path d="M477.5 257V291M476 267.5h1M478 283.5h1" stroke="#801212" stroke-width="1" fill="none"/>
<path d="M480.5 287V308M479 287.5h1M481 303.5h1" stroke="#801212" stroke-width="1" fill="none"/>
<path d="M482.5 287V312M481 303.5h1M483 292.5h1" stroke="#138013" stroke-width="1" fill="none"/>
<path d="M484.5 289V325M483 314.5h1M485 297.5h1" stroke="#138013" stroke-width="1" fill="none"/>
<path d="M486.5 291V313M485 297.5h1M487 307.5h1" stroke="#801212" stroke-width="1" fill="none"/>
<path d="M489.5 300V327M488 307.5h1M490 320.5h1" stroke="#801212" stroke-width="1" fill="none"/>
<path d="M491.5 322V347M490 322.5h1M492 341.5h1" stroke="#801212" stroke-width="1" fill="none"/>
<path d="M493.5 323V343M492 341.5h1M494 327.5h1" stroke="#138013" stroke-width="1" fill="none"/>
<path d="M495.5 322V356M494 327.5h1M496 348.5h1" stroke="#801212" stroke-width="1" fill="none"/>
<path d="M498.5 321V355M497 348.5h1M499 328.5h1" stroke="#138013" stroke-width="1" fill="none"/>
<path d="M500.5 318V342M499 328.5h1M501 323.5h1" stroke="#138013" stroke-width="1" fill="none"/>
<path d="M502.5 312V332M501 323.5h1M503 327.5h1" stroke="#801212" stroke-width="1" fill="none"/>
<path d="M504.5 304V340M503 327.5h1M505 312.5h1" stroke="#138013" stroke-width="1" fill="none"/>
<path d="M506.5 288V311M505 294.5h1M507 305.5h1" stroke="#801212" stroke-width="1" fill="none"/>
<path d="M509.5 303V319M508 313.5h1M510 306.5h1" stroke="#138013" stroke-width="1" fill="none"/>
<path d="M511.5 292V311M510 306.5h1M512 296.5h1" stroke="#138013" stroke-width="1" fill="none"/>
<path d="M513.5 289V329M512 317.5h1M514 298.5h1" stroke="#138013" stroke-width="1" fill="none"/>
<path d="M515.5 273V299M514 298.5h1M516 279.5h1" stroke="#138013" stroke-width="1" fill="none"/>
<path d="M518.5 259V276M517 275.5h1M519 263.5h1" stroke="#138013" stroke-width="1" fill="none"/>
<path d="M520.5 252V268M519 263.5h1M521 264.5h1" stroke="#801212" stroke-width="1" fill="none"/>
<path d="M522.5 249V271M521 264.5h1M523 254.5h1" stroke="#138013" stroke-width="1" fill="none"/>
<path d="M524.5 259V273M523 268.5h1M525 262.5h1" stroke="#138013" stroke-width="1" fill="none"/>
<path d="M526.5 243V275M525 262.5h1M527 267.5h1" stroke="#801212" stroke-width="1" fill="none"/>
<path d="M529.5 239V256M528 255.5h1M530 243.5h1" stroke="#138013" stroke-width="1" fill="none"/>
<path d="M531.5 241V255M530 243.5h1M532 251.5h1" stroke="#801212" stroke-width="1" fill="none"/>
<path d="M533.5 249V278M532 251.5h1M534 271.5h1" stroke="#801212" stroke-width="1" fill="none"/>
<path d="M535.5 259V278M534 271.5h1M536 263.5h1" stroke="#138013" stroke-width="1" fill="none"/>
<path d="M538.5 264V278M537 264.5h1M539 274.5h1" stroke="#801212" stroke-width="1" fill="none"/>
<path d="M540.5 246V272M539 271.5h1M541 252.5h1" stroke="#138013" stroke-width="1" fill="none"/>
<path d="M542.5 250V273M541 252.5h1M543 267.5h1" stroke="#801212" stroke-width="1" fill="none"/>
<path d="M544.5 252V271M543 267.5h1M545 256.5h1" stroke="#138013" stroke-width="1" fill="none"/>
<path d="M546.5 250V274M545 256.5h1M547 268.5h1" stroke="#801212" stroke-width="1" fill="none"/>
<path d="M549.5 263V278M548 268.5h1M550 274.5h1" stroke="#801212" stroke-width="1" fill="none"/>
<path d="M551.5 248V275M550 274.5h1M552 254.5h1" stroke="#138013" stroke-width="1" fill="none"/>
<path d="M553.5 239V257M552 254.5h1M554 243.5h1" stroke="#138013" stroke-width="1" fill="none"/>
<path d="M555.5 233V244M554 243.5h1M556 235.5h1" stroke="#138013" stroke-width="1" fill="none"/>
<path d="M558.5 228V242M557 235.5h1M559 231.5h1" stroke="#138013" stroke-width="1" fill="none"/>
<path d="M560.5 225V236M559 231.5h1M561 227.5h1" stroke="#138013" stroke-width="1" fill="none"/>
<path d="M562.5 224V235M561 227.5h1M563 232.5h1" stroke="#801212" stroke-width="1" fill="none"/>
<path d="M564.5 216V238M563 232.5h1M565 221.5h1" stroke="#138013" stroke-width="1" fill="none"/>
<path d="M567.5 216V225M566 221.5h1M568 222.5h1" stroke="#801212" stroke-width="1" fill="none"/>
<path d="M569.5 212V224M568 222.5h1M570 214.5h1" stroke="#138013" stroke-width="1" fill="none"/>
<path d="M571.5 209V220M570 214.5h1M572 211.5h1" stroke="#138013" stroke-width="1" fill="none"/>
<path d="M573.5 209V218M572 211.5h1M574 215.5h1" stroke="#801212" stroke-width="1" fill="none"/>
<path d="M575.5 209V238M574 215.5h1M576 231.5h1" stroke="#801212" stroke-width="1" fill="none"/>
<path d="M578.5 220V232M577 231.5h1M579 222.5h1" stroke="#138013" stroke-width="1" fill="none"/>
<path d="M580.5 215V234M579 222.5h1M581 219.5h1" stroke="#138013" stroke-width="1" fill="none"/>
<path d="M582.5 209V238M581 219.5h1M583 231.5h1" stroke="#801212" stroke-width="1" fill="none"/>
<path d="M584.5 199V226M583 225.5h1M585 205.5h1" stroke="#138013" stroke-width="1" fill="none"/>
<path d="M587.5 196V204M586 203.5h1M588 198.5h1" stroke="#138013" stroke-width="1" fill="none"/>
<path d="M589.5 201V215M588 210.5h1M590 204.5h1" stroke="#138013" stroke-width="1" fill="none"/>
<path d="M591.5 201V227M590 204.5h1M592 220.5h1" stroke="#801212" stroke-width="1" fill="none"/>
<path d="M593.5 205V232M592 220.5h1M594 225.5h1" stroke="#801212" stroke-width="1" fill="none"/>
<path d="M595.5 216V229M594 219.5h1M596 225.5h1" stroke="#801212" stroke-width="1" fill="none"/>
<path d="M598.5 214V240M597 225.5h1M599 233.5h1" stroke="#801212" stroke-width="1" fill="none"/>
<path d="M600.5 198V233M599 232.5h1M601 205.5h1" stroke="#138013" stroke-width="1" fill="none"/>
<path d="M602.5 189V204M601 203.5h1M603 192.5h1" stroke="#138013" stroke-width="1" fill="none"/>
<path d="M604.5 181V193M603 192.5h1M605 183.5h1" stroke="#138013" stroke-width="1" fill="none"/>
<path d="M607.5 174V189M606 183.5h1M608 177.5h1" stroke="#138013" stroke-width="1" fill="none"/>
<path d="M609.5 169V187M608 177.5h1M610 182.5h1" stroke="#801212" stroke-width="1" fill="none"/>
</g>
<line x1="206" y1="165" x2="676" y2="165" stroke="#e5202e" stroke-width="2.2"/>
<line x1="515" y1="207.7" x2="669" y2="207.7" stroke="#15159a" stroke-width="2.2"/>
<line x1="206" y1="279.1" x2="671" y2="279.1" stroke="#15159a" stroke-width="2.2"/>
<line x1="63" y1="361.6" x2="632.5" y2="361.6" stroke="#15159a" stroke-width="1.1"/>
<line x1="48.6" y1="98.4" x2="633.5" y2="203" stroke="#15159a" stroke-width="2.2"/>
<line x1="393.8" y1="412.2" x2="649.9" y2="276.9" stroke="#15159a" stroke-width="2.2"/>
</g>
<text x="671" y="152" font-size="12" class="b" fill="#111" stroke="#111" stroke-width="0.3">4080</text>
<text x="668" y="192" font-size="12" class="b" fill="#111" stroke="#111" stroke-width="0.3">3790</text>
<text x="666.2" y="224.8" font-size="12" class="b" fill="#111" stroke="#111" stroke-width="0.3">3600</text>
<text x="666.2" y="265.8" font-size="12" class="b" fill="#111" stroke="#111" stroke-width="0.3">3340</text>
<text x="658" y="514.8" font-size="9.5" class="b" textLength="11.8" lengthAdjust="spacingAndGlyphs" fill="#000" stroke="#000" stroke-width="0.3">46</text>
<text x="3" y="31.7" font-size="10.5" fill="#34543a" stroke="#34543a" stroke-width="0.1">Prix</text>
<text x="3" y="463.8" font-size="10.5" textLength="93" lengthAdjust="spacingAndGlyphs" fill="#2c502c" stroke="#2c502c" stroke-width="0.1">© ProRealTime.com</text>
<text x="3.7" y="480.8" font-size="10.5" textLength="37.5" lengthAdjust="spacingAndGlyphs" fill="#d00a46" stroke="#d00a46" stroke-width="0.1">RSI (10)</text>
<g clip-path="url(#cr)">
<rect x="1" y="494" width="746" height="1" fill="#3434dc" shape-rendering="crispEdges"/>
<rect x="1" y="540" width="746" height="1" fill="#3434dc" shape-rendering="crispEdges"/>
<polygon points="1.6,540.0 1.6,542.4 3.6,547.0 6.0,548.0 8.4,549.4 9.6,540.0" fill="#b9d6a3"/>
<polygon points="39.4,540.0 41.4,544.4 43.4,548.0 44.8,540.0" fill="#b9d6a3"/>
<polygon points="70.9,540.0 72.4,553.0 74.4,547.0 77.0,548.0 78.3,540.0" fill="#b9d6a3"/>
<polygon points="84.0,540.0 86.4,546.0 87.3,540.0" fill="#b9d6a3"/>
<polygon points="255.2,540.0 255.4,542.0 255.8,540.0" fill="#b9d6a3"/>
<polygon points="398.7,540.0 399.4,544.0 402.0,547.0 404.4,550.4 406.4,546.0 408.4,541.0 411.0,544.4 413.0,541.6 415.4,547.0 416.7,540.0" fill="#b9d6a3"/>
<path d="M1.6 542.4L3.6 547.0L6.0 548.0L8.4 549.4" stroke="#d60a36" stroke-width="2.3" fill="none" stroke-linejoin="round" stroke-linecap="round"/>
<path d="M8.4 549.4L10.4 534.0L12.4 522.4" stroke="#1a1af5" stroke-width="2.3" fill="none" stroke-linejoin="round" stroke-linecap="round"/>
<path d="M12.4 522.4L14.4 527.0" stroke="#d60a36" stroke-width="2.3" fill="none" stroke-linejoin="round" stroke-linecap="round"/>
<path d="M14.4 527.0L16.4 519.0L18.6 517.0L21.4 512.4" stroke="#1a1af5" stroke-width="2.3" fill="none" stroke-linejoin="round" stroke-linecap="round"/>
<path d="M21.4 512.4L23.4 518.0" stroke="#d60a36" stroke-width="2.3" fill="none" stroke-linejoin="round" stroke-linecap="round"/>
<path d="M23.4 518.0L25.4 512.4" stroke="#1a1af5" stroke-width="2.3" fill="none" stroke-linejoin="round" stroke-linecap="round"/>
<path d="M25.4 512.4L28.0 520.0" stroke="#d60a36" stroke-width="2.3" fill="none" stroke-linejoin="round" stroke-linecap="round"/>
<path d="M28.0 520.0L30.4 516.0" stroke="#1a1af5" stroke-width="2.3" fill="none" stroke-linejoin="round" stroke-linecap="round"/>
<path d="M30.4 516.0L32.6 527.0L34.6 532.4L36.6 536.4L39.4 540.0L41.4 544.4L43.4 548.0" stroke="#d60a36" stroke-width="2.3" fill="none" stroke-linejoin="round" stroke-linecap="round"/>
<path d="M43.4 548.0L45.4 536.6L48.0 531.6" stroke="#1a1af5" stroke-width="2.3" fill="none" stroke-linejoin="round" stroke-linecap="round"/>
<path d="M48.0 531.6L50.0 532.4" stroke="#d60a36" stroke-width="2.3" fill="none" stroke-linejoin="round" stroke-linecap="round"/>
<path d="M50.0 532.4L52.4 523.0" stroke="#1a1af5" stroke-width="2.3" fill="none" stroke-linejoin="round" stroke-linecap="round"/>
<path d="M52.4 523.0L55.0 524.4L57.0 526.0" stroke="#d60a36" stroke-width="2.3" fill="none" stroke-linejoin="round" stroke-linecap="round"/>
<path d="M57.0 526.0L59.4 522.0" stroke="#1a1af5" stroke-width="2.3" fill="none" stroke-linejoin="round" stroke-linecap="round"/>
<path d="M59.4 522.0L61.4 533.0" stroke="#d60a36" stroke-width="2.3" fill="none" stroke-linejoin="round" stroke-linecap="round"/>
<path d="M61.4 533.0L63.4 526.0" stroke="#1a1af5" stroke-width="2.3" fill="none" stroke-linejoin="round" stroke-linecap="round"/>
<path d="M63.4 526.0L66.0 527.6L68.0 531.6L70.4 536.0L72.4 553.0" stroke="#d60a36" stroke-width="2.3" fill="none" stroke-linejoin="round" stroke-linecap="round"/>
<path d="M72.4 553.0L74.4 547.0" stroke="#1a1af5" stroke-width="2.3" fill="none" stroke-linejoin="round" stroke-linecap="round"/>
<path d="M74.4 547.0L77.0 548.0" stroke="#d60a36" stroke-width="2.3" fill="none" stroke-linejoin="round" stroke-linecap="round"/>
<path d="M77.0 548.0L79.0 536.0L81.4 535.0" stroke="#1a1af5" stroke-width="2.3" fill="none" stroke-linejoin="round" stroke-linecap="round"/>
<path d="M81.4 535.0L84.0 540.0L86.4 546.0" stroke="#d60a36" stroke-width="2.3" fill="none" stroke-linejoin="round" stroke-linecap="round"/>
<path d="M86.4 546.0L88.4 532.4" stroke="#1a1af5" stroke-width="2.3" fill="none" stroke-linejoin="round" stroke-linecap="round"/>
<path d="M88.4 532.4L90.4 536.0" stroke="#d60a36" stroke-width="2.3" fill="none" stroke-linejoin="round" stroke-linecap="round"/>
<path d="M90.4 536.0L92.4 529.0L95.0 528.0" stroke="#1a1af5" stroke-width="2.3" fill="none" stroke-linejoin="round" stroke-linecap="round"/>
<path d="M95.0 528.0L97.4 531.0" stroke="#d60a36" stroke-width="2.3" fill="none" stroke-linejoin="round" stroke-linecap="round"/>
<path d="M97.4 531.0L99.4 522.6" stroke="#1a1af5" stroke-width="2.3" fill="none" stroke-linejoin="round" stroke-linecap="round"/>
<path d="M99.4 522.6L101.4 524.4L103.4 531.0L106.0 535.0" stroke="#d60a36" stroke-width="2.3" fill="none" stroke-linejoin="round" stroke-linecap="round"/>
<path d="M106.0 535.0L108.0 530.0L110.0 525.0" stroke="#1a1af5" stroke-width="2.3" fill="none" stroke-linejoin="round" stroke-linecap="round"/>
<path d="M110.0 525.0L112.4 530.0L114.4 534.4L117.0 535.4L119.4 539.4" stroke="#d60a36" stroke-width="2.3" fill="none" stroke-linejoin="round" stroke-linecap="round"/>
<path d="M119.4 539.4L121.4 531.0L123.4 527.6L126.0 525.0L128.0 521.0L130.4 519.0L132.4 515.0L135.0 513.0L137.0 511.0L139.4 504.4" stroke="#1a1af5" stroke-width="2.3" fill="none" stroke-linejoin="round" stroke-linecap="round"/>
<path d="M139.4 504.4L141.4 512.0" stroke="#d60a36" stroke-width="2.3" fill="none" stroke-linejoin="round" stroke-linecap="round"/>
<path d="M141.4 512.0L144.0 509.6L146.0 507.0L148.4 504.4" stroke="#1a1af5" stroke-width="2.3" fill="none" stroke-linejoin="round" stroke-linecap="round"/>
<path d="M148.4 504.4L150.4 505.0L152.4 512.0L154.4 517.0L157.0 521.0L159.0 528.0" stroke="#d60a36" stroke-width="2.3" fill="none" stroke-linejoin="round" stroke-linecap="round"/>
<path d="M159.0 528.0L162.0 512.0L163.4 505.4L166.0 503.6L168.0 500.0" stroke="#1a1af5" stroke-width="2.3" fill="none" stroke-linejoin="round" stroke-linecap="round"/>
<path d="M168.0 500.0L170.4 501.0" stroke="#d60a36" stroke-width="2.3" fill="none" stroke-linejoin="round" stroke-linecap="round"/>
<path d="M170.4 501.0L172.4 496.0L174.4 493.6" stroke="#1a1af5" stroke-width="2.3" fill="none" stroke-linejoin="round" stroke-linecap="round"/>
<path d="M174.4 493.6L177.0 501.0" stroke="#d60a36" stroke-width="2.3" fill="none" stroke-linejoin="round" stroke-linecap="round"/>
<path d="M177.0 501.0L179.4 494.4L181.6 493.0" stroke="#1a1af5" stroke-width="2.3" fill="none" stroke-linejoin="round" stroke-linecap="round"/>
<path d="M181.6 493.0L183.6 500.0L186.0 506.0" stroke="#d60a36" stroke-width="2.3" fill="none" stroke-linejoin="round" stroke-linecap="round"/>
<path d="M186.0 506.0L188.4 499.4L190.4 498.4" stroke="#1a1af5" stroke-width="2.3" fill="none" stroke-linejoin="round" stroke-linecap="round"/>
<path d="M190.4 498.4L192.6 501.0L195.0 515.0" stroke="#d60a36" stroke-width="2.3" fill="none" stroke-linejoin="round" stroke-linecap="round"/>
<path d="M195.0 515.0L197.4 509.0L199.4 505.0" stroke="#1a1af5" stroke-width="2.3" fill="none" stroke-linejoin="round" stroke-linecap="round"/>
<path d="M199.4 505.0L201.6 510.0L204.0 511.4" stroke="#d60a36" stroke-width="2.3" fill="none" stroke-linejoin="round" stroke-linecap="round"/>
<path d="M204.0 511.4L206.4 505.0" stroke="#1a1af5" stroke-width="2.3" fill="none" stroke-linejoin="round" stroke-linecap="round"/>
<path d="M206.4 505.0L208.4 507.0L210.4 508.0" stroke="#d60a36" stroke-width="2.3" fill="none" stroke-linejoin="round" stroke-linecap="round"/>
<path d="M210.4 508.0L212.4 502.0L215.0 500.0L217.4 495.0" stroke="#1a1af5" stroke-width="2.3" fill="none" stroke-linejoin="round" stroke-linecap="round"/>
<path d="M217.4 495.0L219.4 504.0L221.4 514.0L223.6 519.0L226.0 529.0" stroke="#d60a36" stroke-width="2.3" fill="none" stroke-linejoin="round" stroke-linecap="round"/>
<path d="M226.0 529.0L228.0 528.0L230.0 516.0" stroke="#1a1af5" stroke-width="2.3" fill="none" stroke-linejoin="round" stroke-linecap="round"/>
<path d="M230.0 516.0L232.0 519.0" stroke="#d60a36" stroke-width="2.3" fill="none" stroke-linejoin="round" stroke-linecap="round"/>
<path d="M232.0 519.0L234.4 512.0L236.4 508.0L239.0 507.0L241.0 504.0L243.4 502.0L246.0 500.4" stroke="#1a1af5" stroke-width="2.3" fill="none" stroke-linejoin="round" stroke-linecap="round"/>
<path d="M246.0 500.4L248.0 505.0L250.0 510.0L252.4 517.0L254.0 526.0L255.4 542.0" stroke="#d60a36" stroke-width="2.3" fill="none" stroke-linejoin="round" stroke-linecap="round"/>
<path d="M255.4 542.0L257.4 531.0" stroke="#1a1af5" stroke-width="2.3" fill="none" stroke-linejoin="round" stroke-linecap="round"/>
<path d="M257.4 531.0L259.4 534.4" stroke="#d60a36" stroke-width="2.3" fill="none" stroke-linejoin="round" stroke-linecap="round"/>
<path d="M259.4 534.4L261.4 529.6" stroke="#1a1af5" stroke-width="2.3" fill="none" stroke-linejoin="round" stroke-linecap="round"/>
<path d="M261.4 529.6L264.0 532.0" stroke="#d60a36" stroke-width="2.3" fill="none" stroke-linejoin="round" stroke-linecap="round"/>
<path d="M264.0 532.0L266.0 525.0L268.4 517.6" stroke="#1a1af5" stroke-width="2.3" fill="none" stroke-linejoin="round" stroke-linecap="round"/>
<path d="M268.4 517.6L271.0 526.0L273.4 532.0" stroke="#d60a36" stroke-width="2.3" fill="none" stroke-linejoin="round" stroke-linecap="round"/>
<path d="M273.4 532.0L275.4 522.0" stroke="#1a1af5" stroke-width="2.3" fill="none" stroke-linejoin="round" stroke-linecap="round"/>
<path d="M275.4 522.0L277.4 522.6" stroke="#d60a36" stroke-width="2.3" fill="none" stroke-linejoin="round" stroke-linecap="round"/>
<path d="M277.4 522.6L279.4 518.0L282.0 515.6L284.4 513.0" stroke="#1a1af5" stroke-width="2.3" fill="none" stroke-linejoin="round" stroke-linecap="round"/>
<path d="M284.4 513.0L286.4 517.0L289.0 522.0L291.0 523.0" stroke="#d60a36" stroke-width="2.3" fill="none" stroke-linejoin="round" stroke-linecap="round"/>
<path d="M291.0 523.0L293.0 516.0L295.0 511.4L297.4 510.4L299.4 508.0" stroke="#1a1af5" stroke-width="2.3" fill="none" stroke-linejoin="round" stroke-linecap="round"/>
<path d="M299.4 508.0L302.4 514.0" stroke="#d60a36" stroke-width="2.3" fill="none" stroke-linejoin="round" stroke-linecap="round"/>
<path d="M302.4 514.0L304.4 510.0L307.0 505.6L309.0 503.6" stroke="#1a1af5" stroke-width="2.3" fill="none" stroke-linejoin="round" stroke-linecap="round"/>
<path d="M309.0 503.6L311.0 506.0" stroke="#d60a36" stroke-width="2.3" fill="none" stroke-linejoin="round" stroke-linecap="round"/>
<path d="M311.0 506.0L313.4 501.6" stroke="#1a1af5" stroke-width="2.3" fill="none" stroke-linejoin="round" stroke-linecap="round"/>
<path d="M313.4 501.6L315.4 509.0L318.0 510.0L320.0 519.0" stroke="#d60a36" stroke-width="2.3" fill="none" stroke-linejoin="round" stroke-linecap="round"/>
<path d="M320.0 519.0L322.0 517.0L324.0 510.0L326.0 508.4L328.4 506.6" stroke="#1a1af5" stroke-width="2.3" fill="none" stroke-linejoin="round" stroke-linecap="round"/>
<path d="M328.4 506.6L330.4 515.0" stroke="#d60a36" stroke-width="2.3" fill="none" stroke-linejoin="round" stroke-linecap="round"/>
<path d="M330.4 515.0L332.4 510.0L335.0 502.0L337.0 500.6" stroke="#1a1af5" stroke-width="2.3" fill="none" stroke-linejoin="round" stroke-linecap="round"/>
<path d="M337.0 500.6L339.4 501.6" stroke="#d60a36" stroke-width="2.3" fill="none" stroke-linejoin="round" stroke-linecap="round"/>
<path d="M339.4 501.6L341.6 499.6L344.0 496.0L346.0 493.0" stroke="#1a1af5" stroke-width="2.3" fill="none" stroke-linejoin="round" stroke-linecap="round"/>
<path d="M346.0 493.0L348.0 502.4L350.4 508.0L352.6 516.0L355.4 528.0" stroke="#d60a36" stroke-width="2.3" fill="none" stroke-linejoin="round" stroke-linecap="round"/>
<path d="M355.4 528.0L357.4 515.0L359.4 509.0L361.6 508.0" stroke="#1a1af5" stroke-width="2.3" fill="none" stroke-linejoin="round" stroke-linecap="round"/>
<path d="M361.6 508.0L364.4 516.0" stroke="#d60a36" stroke-width="2.3" fill="none" stroke-linejoin="round" stroke-linecap="round"/>
<path d="M364.4 516.0L366.4 511.0L368.6 506.4" stroke="#1a1af5" stroke-width="2.3" fill="none" stroke-linejoin="round" stroke-linecap="round"/>
<path d="M368.6 506.4L370.6 509.0L373.0 513.0L375.0 517.0L377.4 522.0L379.4 527.0L382.0 532.4" stroke="#d60a36" stroke-width="2.3" fill="none" stroke-linejoin="round" stroke-linecap="round"/>
<path d="M382.0 532.4L384.0 531.0" stroke="#1a1af5" stroke-width="2.3" fill="none" stroke-linejoin="round" stroke-linecap="round"/>
<path d="M384.0 531.0L386.0 533.0" stroke="#d60a36" stroke-width="2.3" fill="none" stroke-linejoin="round" stroke-linecap="round"/>
<path d="M386.0 533.0L388.4 511.6" stroke="#1a1af5" stroke-width="2.3" fill="none" stroke-linejoin="round" stroke-linecap="round"/>
<path d="M388.4 511.6L390.4 517.0L393.0 531.0" stroke="#d60a36" stroke-width="2.3" fill="none" stroke-linejoin="round" stroke-linecap="round"/>
<path d="M393.0 531.0L395.0 522.0" stroke="#1a1af5" stroke-width="2.3" fill="none" stroke-linejoin="round" stroke-linecap="round"/>
<path d="M395.0 522.0L397.0 530.0L399.4 544.0L402.0 547.0L404.4 550.4" stroke="#d60a36" stroke-width="2.3" fill="none" stroke-linejoin="round" stroke-linecap="round"/>
<path d="M404.4 550.4L406.4 546.0L408.4 541.0" stroke="#1a1af5" stroke-width="2.3" fill="none" stroke-linejoin="round" stroke-linecap="round"/>
<path d="M408.4 541.0L411.0 544.4" stroke="#d60a36" stroke-width="2.3" fill="none" stroke-linejoin="round" stroke-linecap="round"/>
<path d="M411.0 544.4L413.0 541.6" stroke="#1a1af5" stroke-width="2.3" fill="none" stroke-linejoin="round" stroke-linecap="round"/>
<path d="M413.0 541.6L415.4 547.0" stroke="#d60a36" stroke-width="2.3" fill="none" stroke-linejoin="round" stroke-linecap="round"/>
<path d="M415.4 547.0L417.4 536.0L419.4 531.0L421.6 525.0L423.6 522.6L426.0 516.0" stroke="#1a1af5" stroke-width="2.3" fill="none" stroke-linejoin="round" stroke-linecap="round"/>
<path d="M426.0 516.0L429.0 525.0" stroke="#d60a36" stroke-width="2.3" fill="none" stroke-linejoin="round" stroke-linecap="round"/>
<path d="M429.0 525.0L431.0 524.4" stroke="#1a1af5" stroke-width="2.3" fill="none" stroke-linejoin="round" stroke-linecap="round"/>
<path d="M431.0 524.4L433.0 529.6L435.4 534.0" stroke="#d60a36" stroke-width="2.3" fill="none" stroke-linejoin="round" stroke-linecap="round"/>
<path d="M435.4 534.0L437.4 520.0L440.0 518.4" stroke="#1a1af5" stroke-width="2.3" fill="none" stroke-linejoin="round" stroke-linecap="round"/>
<path d="M440.0 518.4L442.4 526.0" stroke="#d60a36" stroke-width="2.3" fill="none" stroke-linejoin="round" stroke-linecap="round"/>
<path d="M442.4 526.0L444.4 519.6L446.4 517.6" stroke="#1a1af5" stroke-width="2.3" fill="none" stroke-linejoin="round" stroke-linecap="round"/>
<path d="M446.4 517.6L448.6 518.4" stroke="#d60a36" stroke-width="2.3" fill="none" stroke-linejoin="round" stroke-linecap="round"/>
<path d="M448.6 518.4L451.0 515.0L453.0 510.0L455.4 509.6L457.4 504.6" stroke="#1a1af5" stroke-width="2.3" fill="none" stroke-linejoin="round" stroke-linecap="round"/>
<path d="M457.4 504.6L460.0 508.0" stroke="#d60a36" stroke-width="2.3" fill="none" stroke-linejoin="round" stroke-linecap="round"/>
<path d="M460.0 508.0L462.0 505.6L464.4 503.0L466.6 502.6" stroke="#1a1af5" stroke-width="2.3" fill="none" stroke-linejoin="round" stroke-linecap="round"/>
<path d="M466.6 502.6L469.0 503.0" stroke="#d60a36" stroke-width="2.3" fill="none" stroke-linejoin="round" stroke-linecap="round"/>
<path d="M469.0 503.0L471.4 498.0" stroke="#1a1af5" stroke-width="2.3" fill="none" stroke-linejoin="round" stroke-linecap="round"/>
<path d="M471.4 498.0L473.4 507.0L475.4 513.0L478.0 521.0L480.0 527.0L482.0 528.0" stroke="#d60a36" stroke-width="2.3" fill="none" stroke-linejoin="round" stroke-linecap="round"/>
<path d="M482.0 528.0L484.4 522.0" stroke="#1a1af5" stroke-width="2.3" fill="none" stroke-linejoin="round" stroke-linecap="round"/>
<path d="M484.4 522.0L486.4 528.0L489.0 530.4L491.0 537.0" stroke="#d60a36" stroke-width="2.3" fill="none" stroke-linejoin="round" stroke-linecap="round"/>
<path d="M491.0 537.0L493.4 534.0" stroke="#1a1af5" stroke-width="2.3" fill="none" stroke-linejoin="round" stroke-linecap="round"/>
<path d="M493.4 534.0L495.4 538.0" stroke="#d60a36" stroke-width="2.3" fill="none" stroke-linejoin="round" stroke-linecap="round"/>
<path d="M495.4 538.0L497.4 528.4L499.4 526.0L502.0 525.0L504.4 516.0" stroke="#1a1af5" stroke-width="2.3" fill="none" stroke-linejoin="round" stroke-linecap="round"/>
<path d="M504.4 516.0L506.4 518.0" stroke="#d60a36" stroke-width="2.3" fill="none" stroke-linejoin="round" stroke-linecap="round"/>
<path d="M506.4 518.0L509.0 516.6L511.4 515.0L513.4 507.0L515.4 501.0L517.4 498.0L520.0 494.0" stroke="#1a1af5" stroke-width="2.3" fill="none" stroke-linejoin="round" stroke-linecap="round"/>
<path d="M520.0 494.0L522.0 499.0L524.4 503.0" stroke="#d60a36" stroke-width="2.3" fill="none" stroke-linejoin="round" stroke-linecap="round"/>
<path d="M524.4 503.0L526.4 496.0L529.0 493.0" stroke="#1a1af5" stroke-width="2.3" fill="none" stroke-linejoin="round" stroke-linecap="round"/>
<path d="M529.0 493.0L531.0 497.0L533.4 517.0" stroke="#d60a36" stroke-width="2.3" fill="none" stroke-linejoin="round" stroke-linecap="round"/>
<path d="M533.4 517.0L535.4 510.0" stroke="#1a1af5" stroke-width="2.3" fill="none" stroke-linejoin="round" stroke-linecap="round"/>
<path d="M535.4 510.0L538.0 515.0" stroke="#d60a36" stroke-width="2.3" fill="none" stroke-linejoin="round" stroke-linecap="round"/>
<path d="M538.0 515.0L540.0 508.0" stroke="#1a1af5" stroke-width="2.3" fill="none" stroke-linejoin="round" stroke-linecap="round"/>
<path d="M540.0 508.0L542.0 513.0" stroke="#d60a36" stroke-width="2.3" fill="none" stroke-linejoin="round" stroke-linecap="round"/>
<path d="M542.0 513.0L544.0 510.0" stroke="#1a1af5" stroke-width="2.3" fill="none" stroke-linejoin="round" stroke-linecap="round"/>
<path d="M544.0 510.0L547.0 517.0L549.4 521.0" stroke="#d60a36" stroke-width="2.3" fill="none" stroke-linejoin="round" stroke-linecap="round"/>
<path d="M549.4 521.0L551.4 510.0L553.4 506.0L555.4 503.6L558.0 501.6L560.0 500.4" stroke="#1a1af5" stroke-width="2.3" fill="none" stroke-linejoin="round" stroke-linecap="round"/>
<path d="M560.0 500.4L562.0 505.0" stroke="#d60a36" stroke-width="2.3" fill="none" stroke-linejoin="round" stroke-linecap="round"/>
<path d="M562.0 505.0L564.4 499.0" stroke="#1a1af5" stroke-width="2.3" fill="none" stroke-linejoin="round" stroke-linecap="round"/>
<path d="M564.4 499.0L567.0 500.0" stroke="#d60a36" stroke-width="2.3" fill="none" stroke-linejoin="round" stroke-linecap="round"/>
<path d="M567.0 500.0L569.0 498.4L571.4 496.6L573.4 496.0" stroke="#1a1af5" stroke-width="2.3" fill="none" stroke-linejoin="round" stroke-linecap="round"/>
<path d="M573.4 496.0L575.4 512.0" stroke="#d60a36" stroke-width="2.3" fill="none" stroke-linejoin="round" stroke-linecap="round"/>
<path d="M575.4 512.0L578.0 511.6L580.0 508.0" stroke="#1a1af5" stroke-width="2.3" fill="none" stroke-linejoin="round" stroke-linecap="round"/>
<path d="M580.0 508.0L582.4 508.0" stroke="#d60a36" stroke-width="2.3" fill="none" stroke-linejoin="round" stroke-linecap="round"/>
<path d="M582.4 508.0L584.4 497.0L587.0 496.6" stroke="#1a1af5" stroke-width="2.3" fill="none" stroke-linejoin="round" stroke-linecap="round"/>
<path d="M587.0 496.6L589.0 504.0L591.0 511.0L593.4 519.0" stroke="#d60a36" stroke-width="2.3" fill="none" stroke-linejoin="round" stroke-linecap="round"/>
<path d="M593.4 519.0L595.4 512.0" stroke="#1a1af5" stroke-width="2.3" fill="none" stroke-linejoin="round" stroke-linecap="round"/>
<path d="M595.4 512.0L598.4 520.0" stroke="#d60a36" stroke-width="2.3" fill="none" stroke-linejoin="round" stroke-linecap="round"/>
<path d="M598.4 520.0L601.0 504.0L603.0 500.0L605.0 497.0L607.4 495.0" stroke="#1a1af5" stroke-width="2.3" fill="none" stroke-linejoin="round" stroke-linecap="round"/>
<path d="M607.4 495.0L609.4 499.0" stroke="#d60a36" stroke-width="2.3" fill="none" stroke-linejoin="round" stroke-linecap="round"/>

</g>
<rect x="752.5" y="174.5" width="44" height="15" fill="url(#yb)" stroke="#8b9aa6" stroke-width="1"/>
<text x="754.5" y="185" font-size="11" textLength="40.5" lengthAdjust="spacingAndGlyphs" fill="#111" stroke="#111" stroke-width="0.3">3 967,15</text>
<rect x="752.5" y="491.5" width="35" height="15" fill="url(#wb)" stroke="#8b9aa6" stroke-width="1"/>
<text x="754" y="502.5" font-size="11" textLength="32" lengthAdjust="spacingAndGlyphs" fill="#d00a46" stroke="#d00a46" stroke-width="0.3">65,755</text>
<g shape-rendering="crispEdges">
<rect x="6" y="8" width="1" height="11" fill="#c43232"/>
<rect x="3" y="10" width="7" height="7" fill="#c43232"/>
<rect x="4" y="11" width="5" height="5" fill="#f78282"/>
<rect x="14" y="3" width="1" height="16" fill="#1fa01f"/>
<rect x="11" y="6" width="7" height="10" fill="#1fa01f"/>
<rect x="12" y="7" width="5" height="8" fill="#6fe26f"/>
</g>
<text x="23.5" y="15" font-size="11" class="b" textLength="98" lengthAdjust="spacingAndGlyphs" fill="#111" stroke="#111" stroke-width="0.3">PXI - CAC 40 INDEX</text>
<text x="134.4" y="15" font-size="11" class="b" textLength="86" lengthAdjust="spacingAndGlyphs" fill="#111" stroke="#111" stroke-width="0.3">3 967,15 (-2,07%)</text>
<text x="233.7" y="15" font-size="11" class="b" textLength="33.5" lengthAdjust="spacingAndGlyphs" fill="#111" stroke="#111" stroke-width="0.3">Hebdo</text>
<text x="274.4" y="15" font-size="11" class="b" textLength="61" lengthAdjust="spacingAndGlyphs" fill="#111" stroke="#111" stroke-width="0.3">23 mai 2013</text>
<text x="667.5" y="15" font-size="11.5" class="b" textLength="129.5" lengthAdjust="spacingAndGlyphs" fill="#111" stroke="#111" stroke-width="0.3">www.ProRealTime.com</text>
</svg></body></html>
